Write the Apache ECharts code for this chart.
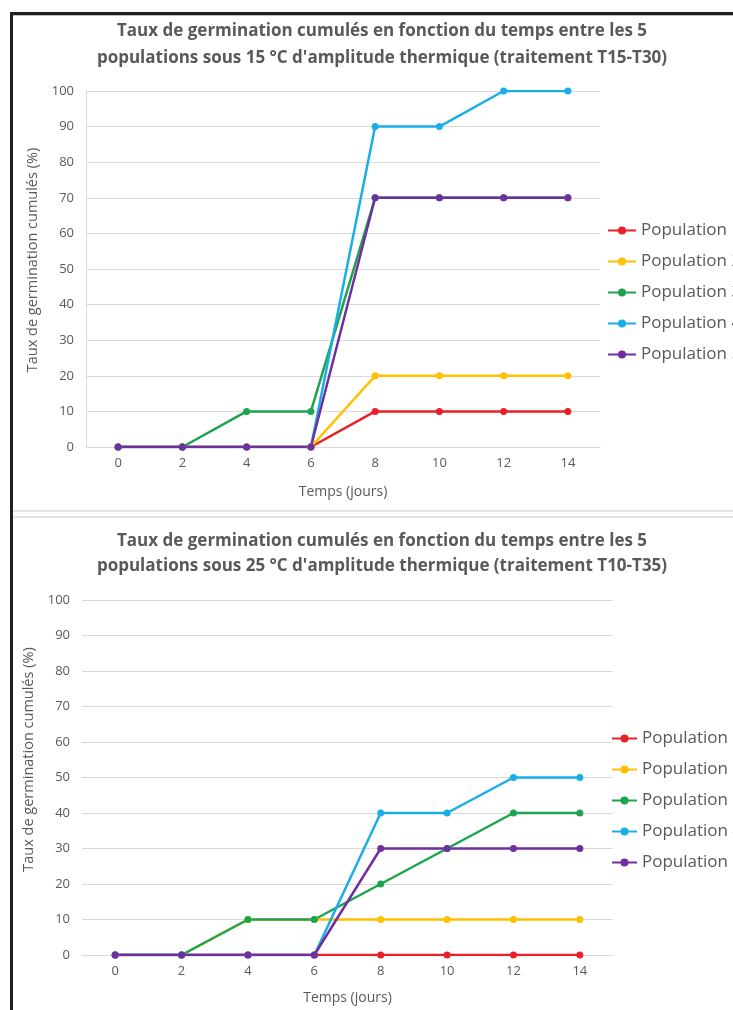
<!DOCTYPE html>
<html>
<head>
<meta charset="utf-8">
<script src="https://cdn.jsdelivr.net/npm/echarts@6/dist/echarts.min.js"></script>
<style>
  html, body { margin: 0; padding: 0; background: #fff; }
  #chart { width: 733px; height: 1010px; }
</style>
</head>
<body>
<div id="chart"></div>
<script>
// jours
var jours = ['0', '2', '4', '6', '8', '10', '12', '14'];
var yTicks = [0, 10, 20, 30, 40, 50, 60, 70, 80, 90, 100];
var noms = ['Population 1', 'Population 2', 'Population 3', 'Population 4', 'Population 5'];
var couleurs = ['#e8202a', '#ffc000', '#1ea44e', '#1aaee6', '#6f2f9f'];

// traitement T15-T30
var t15_pop1 = [0, 0, 0, 0, 10, 10, 10, 10];
var t15_pop2 = [0, 0, 0, 0, 20, 20, 20, 20];
var t15_pop3 = [0, 0, 10, 10, 70, 70, 70, 70];
var t15_pop4 = [0, 0, 0, 0, 90, 90, 100, 100];
var t15_pop5 = [0, 0, 0, 0, 70, 70, 70, 70];

// traitement T10-T35
var t10_pop1 = [0, 0, 0, 0, 0, 0, 0, 0];
var t10_pop2 = [0, 0, 10, 10, 10, 10, 10, 10];
var t10_pop3 = [0, 0, 10, 10, 20, 30, 40, 40];
var t10_pop4 = [0, 0, 0, 0, 40, 40, 50, 50];
var t10_pop5 = [0, 0, 0, 0, 30, 30, 30, 30];

var titre1 = 'Taux de germination cumulés en fonction du temps entre les 5\npopulations sous 15 °C d\'amplitude thermique (traitement T15-T30)';
var titre2 = 'Taux de germination cumulés en fonction du temps entre les 5\npopulations sous 25 °C d\'amplitude thermique (traitement T10-T35)';

var police = 'Open Sans';
var gris = '#595959';

var mychart = echarts.init(document.getElementById('chart'));

function makeSeries(data, idx) {
  var out = [];
  for (var i = 0; i < data.length; i++) {
    out.push({
      name: noms[i],
      type: 'line',
      xAxisIndex: idx,
      yAxisIndex: idx,
      data: data[i],
      symbol: 'circle',
      symbolSize: 7,
      color: couleurs[i],
      lineStyle: { width: 2.5 },
      animation: false
    });
  }
  return out;
}

function xAxe(idx, gap) {
  return {
    type: 'category',
    gridIndex: idx,
    data: jours,
    boundaryGap: true,
    name: 'Temps (jours)',
    nameLocation: 'middle',
    nameGap: gap,
    nameTextStyle: { fontFamily: police, fontSize: 14, color: gris },
    axisLine: { lineStyle: { color: '#d9d9d9', width: 1 } },
    axisTick: { show: false },
    axisLabel: { fontFamily: police, fontSize: 13, color: gris, margin: 10 }
  };
}

function yAxe(idx, showLine, decal) {
  return {
    type: 'value',
    gridIndex: idx,
    min: 0,
    max: 100,
    interval: 10,
    name: 'Taux de germination cumulés (%)',
    nameLocation: 'middle',
    nameGap: 46,
    nameTextStyle: { fontFamily: police, fontSize: 14.5, color: gris, padding: [0, 0, 0, decal] },
    axisLine: { show: showLine, lineStyle: { color: '#d9d9d9', width: 1 } },
    axisTick: { show: false },
    axisLabel: { fontFamily: police, fontSize: 13, color: gris, margin: 12,
      formatter: function (v) { return yTicks.indexOf(v) >= 0 ? String(v) : ''; } },
    splitLine: { lineStyle: { color: '#d9d9d9', width: 1 } }
  };
}

var option = {
  backgroundColor: '#ffffff',
  title: [{
    text: titre1,
    left: 377,
    top: 13,
    textAlign: 'center',
    textStyle: { fontFamily: police, fontSize: 17, fontWeight: 'bold', color: gris, lineHeight: 27 }
  }, {
    text: titre2,
    left: 377,
    top: 524,
    textAlign: 'center',
    textStyle: { fontFamily: police, fontSize: 17, fontWeight: 'bold', color: gris, lineHeight: 25 }
  }],
  legend: [{
    orient: 'vertical',
    left: 607,
    top: 222,
    padding: 0,
    itemWidth: 28,
    itemHeight: 10,
    itemGap: 14,
    data: noms,
    textStyle: { fontFamily: police, fontSize: 17, color: gris }
  }, {
    orient: 'vertical',
    left: 611,
    top: 730,
    padding: 0,
    itemWidth: 25,
    itemHeight: 10,
    itemGap: 14,
    data: noms,
    textStyle: { fontFamily: police, fontSize: 17, color: gris }
  }],
  grid: [
    { left: 86, right: 133, top: 91, height: 356 },
    { left: 82, right: 120, top: 600, height: 355 }
  ],
  xAxis: [xAxe(0, 38), xAxe(1, 36)],
  yAxis: [yAxe(0, true, 18), yAxe(1, false, 36)],
  series: makeSeries([t15_pop1, t15_pop2, t15_pop3, t15_pop4, t15_pop5], 0)
    .concat(makeSeries([t10_pop1, t10_pop2, t10_pop3, t10_pop4, t10_pop5], 1)),
  graphic: [
    // cadre noir
    { type: 'rect', shape: { x: 10, y: 12, width: 723, height: 3 }, style: { fill: '#231f20' } },
    { type: 'rect', shape: { x: 10, y: 12, width: 3, height: 998 }, style: { fill: '#231f20' } },
    { type: 'rect', shape: { x: 13, y: 15, width: 720, height: 1 }, style: { fill: '#bdbdbd' } },
    // séparation
    { type: 'rect', shape: { x: 13, y: 510, width: 720, height: 2 }, style: { fill: '#e3e3e3' } },
    { type: 'rect', shape: { x: 13, y: 516, width: 720, height: 2 }, style: { fill: '#e3e3e3' } }
  ]
};

mychart.setOption(option);
</script>
</body>
</html>
